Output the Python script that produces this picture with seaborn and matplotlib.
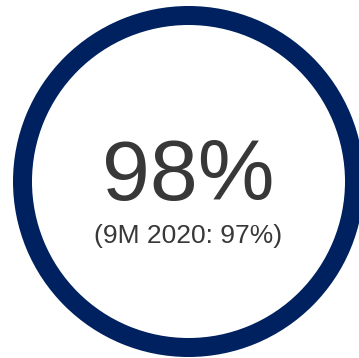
import matplotlib
matplotlib.use("Agg")
import matplotlib.pyplot as plt
import seaborn as sns

# KPI values
current_label = "98%"
prior_label = "(9M 2020: 97%)"
ring_share = [100]

ring_color = "#00215F"
text_color = "#383838"

sns.set_theme(style="white")
plt.rcParams["font.family"] = ["Liberation Sans", "DejaVu Sans"]

fig = plt.figure(figsize=(3.59, 3.58), dpi=100)
ax = fig.add_axes([0, 0, 1, 1])
ax.set_xlim(0, 359)
ax.set_ylim(358, 0)
ax.set_aspect("equal")
ax.axis("off")

ax.pie(ring_share, colors=[ring_color], center=(188.5, 181.5), radius=175.5,
       startangle=90, counterclock=False,
       wedgeprops=dict(width=19, edgecolor="none"))
ax.set_xlim(0, 359)
ax.set_ylim(358, 0)

ax.text(188.5, 200, current_label, ha="center", va="baseline",
        fontsize=62, color=text_color)
ax.text(188.5, 243, prior_label, ha="center", va="baseline",
        fontsize=19, color=text_color)

fig.savefig("out.png", dpi=100, facecolor="white")
